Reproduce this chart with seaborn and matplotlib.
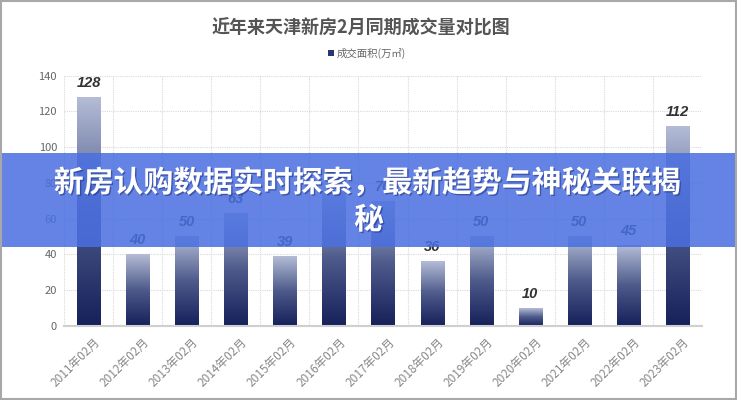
import matplotlib
matplotlib.use('Agg')
import matplotlib.pyplot as plt
import matplotlib.patheffects as pe
import matplotlib.transforms as mtransforms
from matplotlib.colors import LinearSegmentedColormap
from matplotlib.patches import Rectangle
import numpy as np
import pandas as pd
import seaborn as sns

# ******************DATA******************
months = ['2011年02月', '2012年02月', '2013年02月', '2014年02月', '2015年02月', '2016年02月', '2017年02月',
          '2018年02月', '2019年02月', '2020年02月', '2021年02月', '2022年02月', '2023年02月']
area = [128, 40, 50, 63, 39, 75, 70, 36, 50, 10, 50, 45, 112]
y_ticks = [0, 20, 40, 60, 80, 100, 120, 140]

title = '近年来天津新房2月同期成交量对比图'
legend_label = '成交面积(万㎡)'
banner_lines = ['新房认购数据实时探索，最新趋势与神秘关联揭', '秘']

df = pd.DataFrame({'month': months, 'area': area})

# ******************STYLE******************
sns.set_style('white')
plt.rcParams['font.family'] = ['Noto Sans CJK SC', 'DejaVu Sans']

fig = plt.figure(figsize=(7.37, 4.0), dpi=100)
ax = fig.add_axes([64 / 737, 1 - 325.7 / 400, (702 - 64) / 737, (325.7 - 75.7) / 400])

ax = sns.barplot(data=df, x='month', y='area', color='#2a3670', width=0.47, saturation=1, ax=ax, zorder=2)

# gradient fill for each bar (light on top, dark navy at the bottom)
bar_cmap = LinearSegmentedColormap.from_list('bars', [(0, '#16205a'), (0.5, '#4d5a8a'), (1, '#b4bcd6')])
grad = np.linspace(0, 1, 256).reshape(-1, 1)
for p in ax.patches:
    x0, y0, w, h = p.get_x(), p.get_y(), p.get_width(), p.get_height()
    ax.imshow(grad, extent=[x0, x0 + w, y0, y0 + h], aspect='auto', cmap=bar_cmap, origin='lower', zorder=2)
    p.set_alpha(0)

# value labels, bold italic
for i, v in enumerate(area):
    ax.annotate(str(v), (i, v), xytext=(0, 5), textcoords='offset points', ha='center', va='bottom',
                fontsize=10.5, fontweight='bold', fontstyle='italic', family=['Liberation Sans', 'DejaVu Sans'],
                color='#333333', zorder=3)

ax.set_xlim(-0.5, len(months) - 0.5)
ax.set_ylim(0, 140)
ax.set_yticks(y_ticks)
ax.set_xlabel('')
ax.set_ylabel('')

# dotted grid, also between categories
for y in y_ticks[1:]:
    ax.axhline(y, color='#d9d9d9', lw=0.8, ls=(0, (1, 1)), zorder=0)
for x in np.arange(-0.5, len(months), 1):
    ax.axvline(x, color='#d9d9d9', lw=0.8, ls=(0, (1, 1)), zorder=0)

for s in ['top', 'right', 'left']:
    ax.spines[s].set_visible(False)
ax.spines['bottom'].set_color('#cfcfcf')
ax.spines['bottom'].set_linewidth(1.5)

ax.tick_params(axis='y', length=0, pad=5, labelsize=8, labelcolor='#666666')
ax.tick_params(axis='x', length=0, pad=7, labelsize=8.5, labelcolor='#888888')
ax.set_xticks(range(len(months)))
ax.set_xticklabels(months, rotation=45, ha='right', rotation_mode='anchor')
shift = mtransforms.ScaledTranslation(5 / 100, 0, fig.dpi_scale_trans)
for lab in ax.get_xticklabels():
    lab.set_transform(lab.get_transform() + shift)

# title and legend
fig.text(361 / 737, 1 - 28 / 400, title, ha='center', va='center', fontsize=13, fontweight='heavy', color='#555555')
fig.patches.append(Rectangle((328 / 737, 1 - 56 / 400), 6 / 737, 6 / 400, transform=fig.transFigure,
                             facecolor='#2a3670', edgecolor='none'))
fig.text(337 / 737, 1 - 53 / 400, legend_label, ha='left', va='center', fontsize=7.5, color='#666666')

# blue banner on top
fig.patches.append(Rectangle((0, 1 - 247.3 / 400), 1, (247.3 - 152.7) / 400, transform=fig.transFigure,
                             facecolor='#4a6fe0', edgecolor='none', alpha=0.86, zorder=5))
shadow = [pe.withSimplePatchShadow(offset=(1, -1), shadow_rgbFace='#1a2a70', alpha=0.5)]
fig.text(367.5 / 737, 1 - 183 / 400, banner_lines[0], ha='center', va='center', fontsize=21.5,
         fontweight='heavy', color='white', zorder=6, path_effects=shadow)
fig.text(369 / 737, 1 - 220 / 400, banner_lines[1], ha='center', va='center', fontsize=21.5,
         fontweight='heavy', color='white', zorder=6, path_effects=shadow)

# grey border round the picture
fig.patches.append(Rectangle((0.001, 0.002), 0.997, 0.995, transform=fig.transFigure, fill=False,
                             edgecolor='#a8a8a8', linewidth=1.5, zorder=7))

fig.savefig('out.png', dpi=100)
